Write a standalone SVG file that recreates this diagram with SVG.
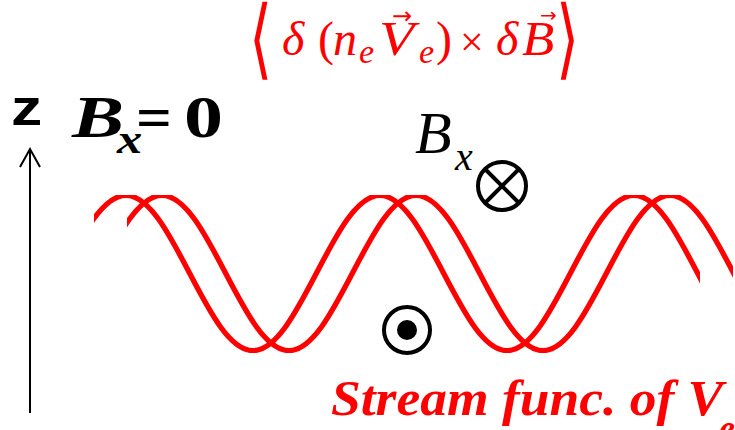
<svg xmlns="http://www.w3.org/2000/svg" width="735" height="430" viewBox="0 0 735 430">
<style>
.red{fill:#ff0000}
.blk{fill:#000}
.wave{fill:none;stroke:#ff0000;stroke-width:5.3;stroke-linejoin:round}
.ring{fill:none;stroke:#000;stroke-width:4}
</style>
<defs>
<clipPath id="c1"><rect x="94" y="195" width="606" height="158"/></clipPath>
<clipPath id="c2"><rect x="127" y="195" width="606" height="158"/></clipPath>
</defs>
<rect width="735" height="430" fill="#fff"/>

<g id="formula" class="red">
<text x="0" y="0" font-size="70" font-family="'DejaVu Serif', serif" transform="translate(249,68) scale(0.85,1.25)">⟨</text>
<text x="282" y="55" font-size="48" font-family="'Liberation Serif', serif" font-style="italic">δ</text>
<text x="318" y="55" font-size="48" font-family="'Liberation Serif', serif">(</text>
<text x="333" y="55" font-size="48" font-family="'Liberation Serif', serif" font-style="italic">n</text>
<text x="359" y="63" font-size="34" font-family="'Liberation Serif', serif" font-style="italic">e</text>
<text x="0" y="0" font-size="48" font-family="'Liberation Serif', serif" font-style="italic" transform="translate(379,55) scale(1.2,1)">V</text>
<text x="392" y="24" font-size="24" font-family="'DejaVu Sans', sans-serif">→</text>
<text x="419" y="63" font-size="34" font-family="'Liberation Serif', serif" font-style="italic">e</text>
<text x="436" y="55" font-size="48" font-family="'Liberation Serif', serif">)</text>
<text x="460" y="56" font-size="42" font-family="'Liberation Serif', serif">×</text>
<text x="496" y="55" font-size="48" font-family="'Liberation Serif', serif" font-style="italic">δ</text>
<text x="0" y="0" font-size="48" font-family="'Liberation Serif', serif" font-style="italic" transform="translate(522,55) scale(1.1,1)">B</text>
<text x="540" y="22" font-size="20" font-family="'DejaVu Sans', sans-serif">→</text>
<text x="0" y="0" font-size="70" font-family="'DejaVu Serif', serif" transform="translate(556,68) scale(0.85,1.25)">⟩</text>
</g>

<g id="z-axis">
<text x="0" y="0" font-size="50" font-weight="bold" font-family="'Liberation Sans', sans-serif" transform="translate(11,125) scale(1.25,1)">z</text>
<line x1="30" y1="149" x2="30" y2="413" stroke="#000" stroke-width="2"/>
<polyline points="20,167 30,149 40,167" fill="none" stroke="#000" stroke-width="2"/>
</g>

<g id="bx-zero" class="blk">
<text x="0" y="0" font-size="60" font-family="'Liberation Serif', serif" font-weight="bold" font-style="italic" transform="translate(72,137) scale(1.3,1)">B</text>
<text x="0" y="0" font-size="42" font-family="'Liberation Serif', serif" font-weight="bold" font-style="italic" transform="translate(117,153) scale(1.2,1)">x</text>
<text x="0" y="0" font-size="60" font-family="'Liberation Serif', serif" font-weight="bold" transform="translate(136,137) scale(1.05,1)">=</text>
<text x="0" y="0" font-size="60" font-family="'Liberation Serif', serif" font-weight="bold" transform="translate(184,137) scale(1.3,1)">0</text>
</g>

<g id="bx-label" class="blk">
<text x="415" y="153" font-size="60" font-family="'Liberation Serif', serif" font-style="italic">B</text>
<text x="455" y="170" font-size="40" font-family="'Liberation Serif', serif" font-style="italic">x</text>
</g>

<g id="otimes">
<circle cx="502" cy="186" r="24" class="ring"/>
<line x1="485" y1="169" x2="519" y2="203" stroke="#000" stroke-width="4"/>
<line x1="519" y1="169" x2="485" y2="203" stroke="#000" stroke-width="4"/>
</g>

<g id="odot">
<circle cx="407" cy="330" r="23" class="ring"/>
<circle cx="407" cy="330" r="10" fill="#000"/>
</g>

<g id="waves">
<path class="wave" clip-path="url(#c1)" d="M62.5,273 c20.71,-39.75 40.52,-77.6 63.5,-77.6 c22.98,0 42.79,37.85 63.5,77.6 c20.71,39.75 40.52,77.6 63.5,77.6 c22.98,0 42.79,-37.85 63.5,-77.6 c20.71,-39.75 40.52,-77.6 63.5,-77.6 c22.98,0 42.79,37.85 63.5,77.6 c20.71,39.75 40.52,77.6 63.5,77.6 c22.98,0 42.79,-37.85 63.5,-77.6 c20.71,-39.75 40.52,-77.6 63.5,-77.6 c22.98,0 42.79,37.85 63.5,77.6 c20.71,39.75 40.52,77.6 63.5,77.6"/>
<path class="wave" clip-path="url(#c2)" d="M98.5,273 c20.71,-39.75 40.52,-77.6 63.5,-77.6 c22.98,0 42.79,37.85 63.5,77.6 c20.71,39.75 40.52,77.6 63.5,77.6 c22.98,0 42.79,-37.85 63.5,-77.6 c20.71,-39.75 40.52,-77.6 63.5,-77.6 c22.98,0 42.79,37.85 63.5,77.6 c20.71,39.75 40.52,77.6 63.5,77.6 c22.98,0 42.79,-37.85 63.5,-77.6 c20.71,-39.75 40.52,-77.6 63.5,-77.6 c22.98,0 42.79,37.85 63.5,77.6 c20.71,39.75 40.52,77.6 63.5,77.6"/>
</g>

<g id="stream-label" class="red">
<text x="0" y="0" font-size="50" font-family="'Liberation Serif', serif" font-style="italic" font-weight="bold" transform="translate(331,415) scale(1.07,1)">Stream func. of V</text>
<text x="719" y="440" font-size="36" font-family="'Liberation Serif', serif" font-style="italic" font-weight="bold">e</text>
</g>
</svg>
